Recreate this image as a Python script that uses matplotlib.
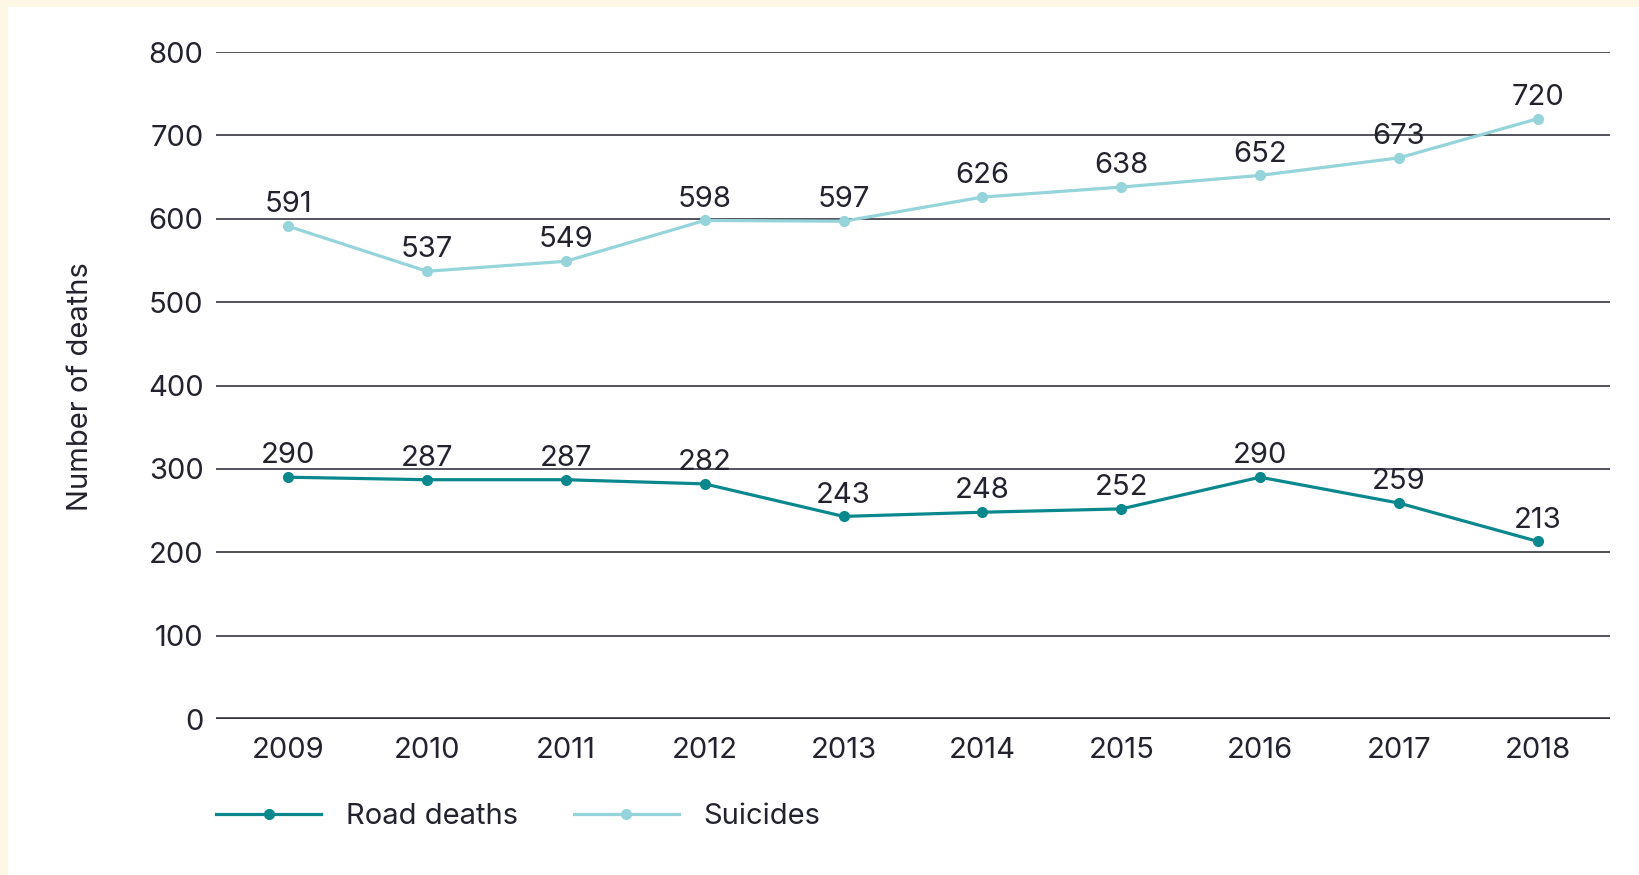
import matplotlib.pyplot as plt
from matplotlib.patches import Rectangle

# Данные с графика
years = ["2009", "2010", "2011", "2012", "2013", "2014", "2015", "2016", "2017", "2018"]
road_deaths = [290, 287, 287, 282, 243, 248, 252, 290, 259, 213]
suicides = [591, 537, 549, 598, 597, 626, 638, 652, 673, 720]
y_ticks = [0, 100, 200, 300, 400, 500, 600, 700, 800]

dark_teal = "#0a888d"
light_teal = "#95d4da"
text_color = "#23232f"
grid_color = "#44444f"
cream = "#fef7e6"
fs = 21

plt.rcParams['font.family'] = ['Inter', 'DejaVu Sans']

W, H = 1639, 875
fig = plt.figure(figsize=(W / 100, H / 100), dpi=100, facecolor="white")

# кремовая рамка сверху и слева
fig.patches.append(Rectangle((0, 1 - 7 / H), 1, 7 / H, transform=fig.transFigure,
                             facecolor=cream, edgecolor="none", zorder=0))
fig.patches.append(Rectangle((0, 0), 8 / W, 1, transform=fig.transFigure,
                             facecolor=cream, edgecolor="none", zorder=0))

ax = fig.add_axes([216 / W, 1 - 719 / H, (1610 - 216) / W, (719 - 52) / H])
ax.set_facecolor("none")

x = list(range(len(years)))

# сетка
for t in y_ticks:
    if t == 0:
        ax.axhline(t, color="#33333d", lw=2.6, zorder=1)
    else:
        ax.axhline(t, color=grid_color, lw=1.3, zorder=1)

ax.plot(x, road_deaths, color=dark_teal, lw=2.3, marker="o", ms=7,
        label="Road deaths", zorder=3)
ax.plot(x, suicides, color=light_teal, lw=2.3, marker="o", ms=7,
        label="Suicides", zorder=3)

for xi, v in zip(x, road_deaths):
    ax.annotate(str(v), (xi, v), xytext=(0, 10), textcoords="offset points",
                ha="center", va="baseline", fontsize=fs, color=text_color, zorder=4)
for xi, v in zip(x, suicides):
    ax.annotate(str(v), (xi, v), xytext=(0, 10), textcoords="offset points",
                ha="center", va="baseline", fontsize=fs, color=text_color, zorder=4)

ax.set_xlim(-0.52, 9.52)
ax.set_ylim(0, 800)
ax.set_yticks(y_ticks)
ax.set_yticklabels([str(t) for t in y_ticks])
ax.set_xticks(x)
ax.set_xticklabels(years)
ax.tick_params(axis="both", length=0, labelsize=fs, colors=text_color)
ax.tick_params(axis="y", pad=9)
ax.tick_params(axis="x", pad=13)
for s in ax.spines.values():
    s.set_visible(False)

fig.text(80 / W, 1 - 387 / H, "Number of deaths", rotation=90, ha="center",
         va="center", fontsize=fs, color=text_color)

fig.legend(loc="center left", bbox_to_anchor=(216 / W, 1 - 817 / H),
           ncol=2, frameon=False, fontsize=fs, handlelength=3.6,
           handletextpad=0.86, columnspacing=1.9, borderpad=0,
           borderaxespad=0, labelcolor=text_color)

fig.savefig("out.png", dpi=100, facecolor="white")
